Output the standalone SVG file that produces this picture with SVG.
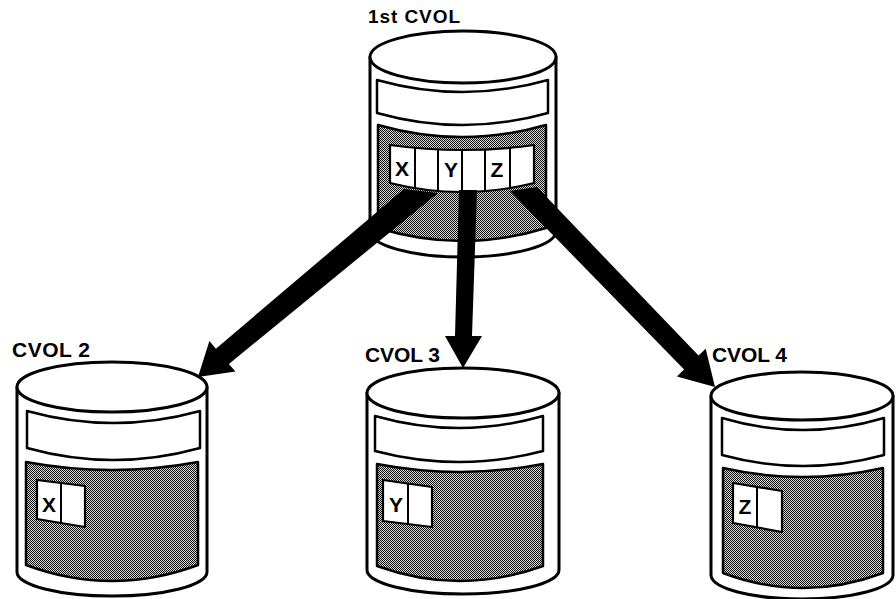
<svg xmlns="http://www.w3.org/2000/svg" width="896" height="599" viewBox="0 0 896 599">
  <defs>
    <!-- fine halftone used for the record areas -->
    <pattern id="dither" width="2" height="2" patternUnits="userSpaceOnUse">
      <rect width="2" height="2" fill="#d6d6d6"/>
      <rect width="1" height="1" fill="#111"/>
      <rect x="1" y="1" width="1" height="1" fill="#111"/>
    </pattern>
  </defs>
  <style>
    .wall { fill: #fff; stroke: #000; stroke-width: 3; stroke-linejoin: round; }
    .band { fill: #fff; stroke: #000; stroke-width: 2.5; stroke-linejoin: round; }
    .shade { fill: url(#dither); stroke: #000; stroke-width: 2.5; stroke-linejoin: round; }
    .cell { fill: #fff; stroke: #000; stroke-width: 2.2; stroke-linejoin: round; }
    .div { stroke: #000; stroke-width: 2; fill: none; }
    .label { font-family: "Liberation Sans", Arial, sans-serif; font-weight: bold; fill: #000; }
    .letter { font-family: "Liberation Sans", Arial, sans-serif; font-weight: bold; font-size: 21px; fill: #000; text-anchor: middle; }
    .arrow { fill: #000; stroke: none; }
  </style>

  <!-- master catalog volume -->
  <g id="cvol1">
    <path class="wall" d="M370,57 L370,231 A93,26 0 0 0 556,231 L556,57 Z"/>
    <ellipse class="wall" cx="463" cy="57" rx="93" ry="26"/>
    <path class="band" d="M377,80 Q462.5,104 548,80 L548,113 Q462.5,137 377,113 Z"/>
    <path class="shade" d="M378,125 Q462,149 546,125 L546,228 Q462,254 378,228 Z"/>
    <path class="cell" d="M390,145 Q462,155 534,145 L534,183 Q462,201 390,183 Z"/>
    <line class="div" x1="415" y1="147.9" x2="415" y2="188.2"/>
    <line class="div" x1="438" y1="149.4" x2="438" y2="191"/>
    <line class="div" x1="462" y1="150" x2="462" y2="192"/>
    <line class="div" x1="485" y1="149.5" x2="485" y2="191.1"/>
    <line class="div" x1="510" y1="147.8" x2="510" y2="188"/>
    <text class="letter" x="402" y="176">X</text>
    <text class="letter" x="451" y="177">Y</text>
    <text class="letter" x="497" y="177">Z</text>
    <text class="label" x="368" y="23" font-size="19" textLength="92" lengthAdjust="spacing">1st CVOL</text>
  </g>

  <!-- second catalog volume -->
  <g id="cvol2">
    <path class="wall" d="M17,387 L17,572 A95,24 0 0 0 207,572 L207,387 Z"/>
    <ellipse class="wall" cx="112" cy="387" rx="95" ry="25"/>
    <path class="band" d="M27,411 Q113.5,435 200,411 L200,448 Q113.5,472 27,448 Z"/>
    <path class="shade" d="M26,462 Q112,478 198,462 L198,565 Q112,597 26,565 Z"/>
    <polygon class="cell" points="37,480 85,486 85,527 37,519"/>
    <line class="div" x1="61" y1="483" x2="61" y2="523"/>
    <text class="letter" x="49" y="512">X</text>
    <text class="label" x="12" y="357" font-size="21" textLength="78" lengthAdjust="spacing">CVOL 2</text>
  </g>

  <!-- third catalog volume -->
  <g id="cvol3">
    <path class="wall" d="M367,393 L367,570 A96,24 0 0 0 559,570 L559,393 Z"/>
    <ellipse class="wall" cx="463" cy="393" rx="96" ry="25"/>
    <path class="band" d="M375,416 Q459,440 543,416 L543,451 Q459,473 375,451 Z"/>
    <path class="shade" d="M377,464 Q460,480 543,464 L543,566 Q460,596 377,566 Z"/>
    <polygon class="cell" points="383,480 432,487 432,527 383,521"/>
    <line class="div" x1="408" y1="483" x2="408" y2="524"/>
    <text class="letter" x="396" y="512">Y</text>
    <text class="label" x="365" y="362" font-size="21" textLength="75" lengthAdjust="spacing">CVOL 3</text>
  </g>

  <!-- fourth catalog volume -->
  <g id="cvol4">
    <path class="wall" d="M711,396 L711,575 A91,24 0 0 0 893,575 L893,396 Z"/>
    <ellipse class="wall" cx="802" cy="396" rx="91" ry="24"/>
    <path class="band" d="M722,418 Q803,442 884,418 L884,455 Q803,477 722,455 Z"/>
    <path class="shade" d="M723,468 Q803,486 883,468 L883,573 Q803,603 723,573 Z"/>
    <polygon class="cell" points="733,483 782,491 782,532 733,523"/>
    <line class="div" x1="757" y1="487" x2="757" y2="528"/>
    <text class="letter" x="745" y="514">Z</text>
    <text class="label" x="712" y="362" font-size="21" textLength="75" lengthAdjust="spacing">CVOL 4</text>
  </g>

  <!-- pointers from the master catalog entries to the volumes -->
  <g id="connectors">
    <polygon class="arrow" points="404,189 438,193 228.9,363.9 235.4,371.5 198,377 209.4,341.1 215.9,348.7"/>
    <polygon class="arrow" points="459,190 477,190 472,336 482,336 463,368 445,336 455,336"/>
    <polygon class="arrow" points="510,191 537,187 698.5,355.6 705.7,348.7 715,387 676.9,376.5 684.1,369.6"/>
  </g>
</svg>
